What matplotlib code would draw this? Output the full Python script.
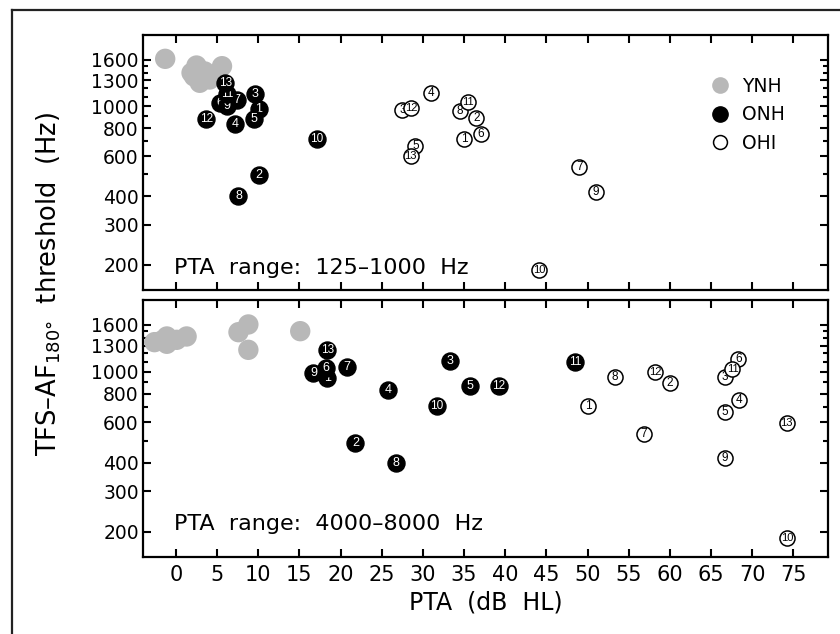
import matplotlib
matplotlib.use("Agg")
import matplotlib.pyplot as plt
import numpy as np
from matplotlib.lines import Line2D
from matplotlib.ticker import FixedLocator, NullFormatter

plt.rcParams["font.family"] = ["DejaVu Sans"]

# ---- data ----
# upper panel: PTA 125-1000 Hz
ynh_top_x = [-1.3, 2.5, 1.9, 3.1, 2.9, 4.1, 5.6, 3.5, 2.2]
ynh_top_y = [1614, 1508, 1401, 1377, 1266, 1309, 1498, 1420, 1350]

onh_id = [1, 2, 3, 4, 5, 6, 7, 8, 9, 10, 11, 12, 13]
onh_top_x = [10.1, 10.1, 9.6, 7.2, 9.5, 5.3, 7.4, 7.6, 6.2, 17.1, 6.2, 3.7, 6.0]
onh_top_y = [967, 498, 1125, 837, 874, 1028, 1059, 403, 1000, 715, 1125, 881, 1266]

ohi_id = [1, 2, 3, 4, 5, 6, 7, 8, 9, 10, 11, 12, 13]
ohi_top_x = [35.0, 36.5, 27.5, 31.0, 29.1, 37.0, 49.0, 34.5, 51.0, 44.1, 35.5, 28.6, 28.5]
ohi_top_y = [714, 889, 960, 1145, 668, 757, 537, 951, 417, 189, 1045, 984, 600]

# lower panel: PTA 4000-8000 Hz
ynh_bot_x = [-2.6, -1.7, -1.1, -1.1, 0.1, 1.3, 7.6, 8.8, 8.8, 15.1]
ynh_bot_y = [1345, 1367, 1323, 1424, 1377, 1424, 1487, 1607, 1245, 1502]

onh_bot_x = [18.4, 21.8, 33.3, 25.8, 35.7, 18.2, 20.8, 26.7, 16.7, 31.7, 48.5, 39.2, 18.4]
onh_bot_y = [938, 490, 1117, 831, 868, 1034, 1052, 400, 987, 710, 1106, 868, 1245]

ohi_bot_x = [50.1, 60.0, 66.7, 68.4, 66.7, 68.3, 56.8, 53.3, 66.7, 74.2, 67.6, 58.2, 74.2]
ohi_bot_y = [705, 892, 951, 754, 668, 1137, 533, 951, 418, 188, 1027, 993, 595]

panel_text = ["PTA  range:  125\u20131000  Hz", "PTA  range:  4000\u20138000  Hz"]
y_major = [200, 300, 400, 600, 800, 1000, 1300, 1600]
y_minor = [500, 700, 900, 1100, 1200, 1400, 1500]
x_ticks = list(range(0, 80, 5))

num_font = ["Liberation Sans Narrow", "Liberation Sans", "DejaVu Sans"]

fig = plt.figure(figsize=(8.4, 6.34), dpi=100)
ax_top = fig.add_axes([0.1702, 0.5426, 0.8155, 0.4022])
ax_bot = fig.add_axes([0.1702, 0.1215, 0.8155, 0.4053])


def draw_panel(ax, yx, yy, ox, oy, hx, hy, label, label_y):
    ax.scatter(yx, yy, s=215, color="#b8b8b8", edgecolors="none", zorder=2)
    for i, (x, y) in enumerate(zip(ox, oy)):
        z = 3 + i * 0.02
        ax.scatter([x], [y], s=150, color="black", edgecolors="black", zorder=z)
        ax.text(x, y, str(onh_id[i]), color="white", fontsize=9 if onh_id[i] < 10 else 8.5,
                family=num_font, ha="center", va="center", zorder=z + 0.01)
    for i, (x, y) in enumerate(zip(hx, hy)):
        z = 4 + i * 0.02
        ax.scatter([x], [y], s=118, facecolor="white", edgecolors="black", linewidths=1.1, zorder=z)
        ax.text(x, y, str(ohi_id[i]), color="black", fontsize=8.5 if ohi_id[i] < 10 else 8,
                family=num_font, ha="center", va="center", zorder=z + 0.01)
    ax.set_yscale("log")
    ax.set_ylim(155, 2055)
    ax.set_xlim(-4.0, 79.2)
    ax.yaxis.set_major_locator(FixedLocator(y_major))
    ax.yaxis.set_minor_locator(FixedLocator(y_minor))
    ax.set_yticklabels([str(v) for v in y_major])
    ax.yaxis.set_minor_formatter(NullFormatter())
    ax.set_xticks(x_ticks)
    ax.tick_params(which="both", direction="in", top=True, right=True, width=1.5, labelsize=13.5)
    ax.tick_params(which="major", length=6)
    ax.tick_params(which="minor", length=3.5)
    ax.tick_params(axis="x", labelsize=15, pad=6)
    ax.tick_params(axis="y", pad=3)
    for sp in ax.spines.values():
        sp.set_linewidth(1.6)
    ax.text(-0.2, label_y, label, transform=ax.get_xaxis_transform(), fontsize=16,
            ha="left", va="center")


draw_panel(ax_top, ynh_top_x, ynh_top_y, onh_top_x, onh_top_y, ohi_top_x, ohi_top_y,
           panel_text[0], 0.088)
draw_panel(ax_bot, ynh_bot_x, ynh_bot_y, onh_bot_x, onh_bot_y, ohi_bot_x, ohi_bot_y,
           panel_text[1], 0.128)
ax_top.tick_params(axis="x", labelbottom=False)

handles = [
    Line2D([], [], ls="none", marker="o", ms=12, color="#b8b8b8", mec="none"),
    Line2D([], [], ls="none", marker="o", ms=11, color="black"),
    Line2D([], [], ls="none", marker="o", ms=10, mfc="white", mec="black", mew=1.1),
]
ax_top.legend(handles, ["YNH", "ONH", "OHI"], loc="upper left", bbox_to_anchor=(0.81, 0.865),
              frameon=False, fontsize=13.5, handletextpad=0.35, labelspacing=0.5,
              borderaxespad=0, handlelength=1.6)

fig.text(0.058, 0.552, "TFS\u2013AF$_{180\u00b0}$  threshold  (Hz)", rotation=90, fontsize=18.5,
         ha="center", va="center")
fig.text(0.578, 0.05, "PTA  (dB  HL)", fontsize=17, ha="center", va="center")

# outer border (left and top edges visible in the reference)
fig.add_artist(Line2D([0.0143, 0.0143], [0.0, 0.984], transform=fig.transFigure, color="#222222", lw=1.6))
fig.add_artist(Line2D([0.0143, 1.0], [0.984, 0.984], transform=fig.transFigure, color="#222222", lw=1.6))

fig.savefig("out.png", dpi=100)
